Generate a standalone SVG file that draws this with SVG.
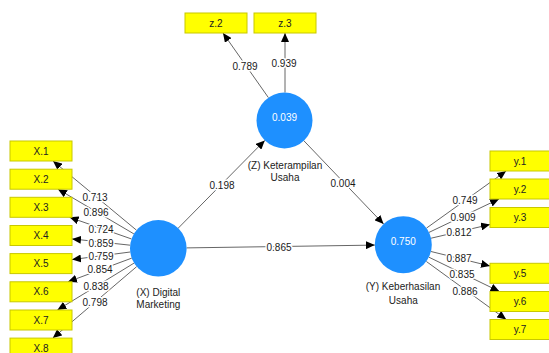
<svg xmlns="http://www.w3.org/2000/svg" width="549" height="353" viewBox="0 0 549 353">
  <style>
    text { font-family: "Liberation Sans", Arial, sans-serif; font-size: 10px; text-anchor: middle; }
    .ind rect { fill: #FFFF00; stroke: #C8C800; stroke-width: 1; }
    .ind text { fill: #222222; }
    .lv circle { fill: #1E90FF; }
    .lv .val { fill: #FFFFFF; }
    .lv .name { fill: #222222; }
    .edge { stroke: #666666; stroke-width: 1; fill: none; marker-end: url(#arrow); }
    .lbl { fill: #1a1a1a; stroke: #FFFFFF; stroke-width: 3px; paint-order: stroke; stroke-linejoin: round; }
  </style>
  <defs>
    <marker id="arrow" markerUnits="userSpaceOnUse" markerWidth="10" markerHeight="8" refX="9" refY="4" orient="auto">
      <path d="M0,0 L9,4 L0,8 Z" fill="#000000"/>
    </marker>
  </defs>
  <rect width="549" height="353" fill="#FFFFFF"/>

  <!-- connectors -->
  <g id="connectors">
    <!-- Digital Marketing outer loadings -->
    <line class="edge" x1="136.5" y1="230.2" x2="53.0" y2="161"/>
    <line class="edge" x1="133.9" y1="233.9" x2="58.0" y2="189.2"/>
    <line class="edge" x1="131.6" y1="239.0" x2="69.6" y2="217.3"/>
    <line class="edge" x1="130.2" y1="245.2" x2="72" y2="238.9"/>
    <line class="edge" x1="130.2" y1="252.0" x2="72" y2="259.6"/>
    <line class="edge" x1="131.8" y1="258.1" x2="68.0" y2="281.8"/>
    <line class="edge" x1="134.2" y1="263.0" x2="57.4" y2="310"/>
    <line class="edge" x1="136.7" y1="266.6" x2="52.8" y2="338.1"/>
    <!-- Keterampilan outer loadings -->
    <line class="edge" x1="268.4" y1="97.6" x2="223.0" y2="33"/>
    <line class="edge" x1="285" y1="92.5" x2="285" y2="33"/>
    <!-- Keberhasilan outer loadings -->
    <line class="edge" x1="426.5" y1="228.1" x2="506.1" y2="171"/>
    <line class="edge" x1="429.0" y1="232.4" x2="499.0" y2="199"/>
    <line class="edge" x1="431.1" y1="238.2" x2="490" y2="224.5"/>
    <line class="edge" x1="431.0" y1="251.5" x2="490" y2="266.0"/>
    <line class="edge" x1="428.9" y1="257.2" x2="499.5" y2="291.5"/>
    <line class="edge" x1="426.4" y1="261.5" x2="506.2" y2="319.5"/>
    <!-- structural paths -->
    <line class="edge" x1="178.2" y1="228.2" x2="264.8" y2="140.4"/>
    <line class="edge" x1="303.8" y1="140.7" x2="383.6" y2="224.1"/>
    <line class="edge" x1="186.6" y1="247.9" x2="374.8" y2="245.1"/>

    <!-- path coefficients and loadings -->
    <text class="lbl" x="95" y="200.6">0.713</text>
    <text class="lbl" x="96" y="215.6">0.896</text>
    <text class="lbl" x="101" y="232.6">0.724</text>
    <text class="lbl" x="101" y="246.6">0.859</text>
    <text class="lbl" x="101" y="259.6">0.759</text>
    <text class="lbl" x="100" y="272.6">0.854</text>
    <text class="lbl" x="96" y="289.6">0.838</text>
    <text class="lbl" x="95" y="305.6">0.798</text>
    <text class="lbl" x="245" y="69.6">0.789</text>
    <text class="lbl" x="284" y="66.6">0.939</text>
    <text class="lbl" x="465" y="203.6">0.749</text>
    <text class="lbl" x="463" y="220.6">0.909</text>
    <text class="lbl" x="459" y="235.6">0.812</text>
    <text class="lbl" x="459" y="261.6">0.887</text>
    <text class="lbl" x="462" y="277.6">0.835</text>
    <text class="lbl" x="465" y="294.6">0.886</text>
    <text class="lbl" x="222" y="188.6">0.198</text>
    <text class="lbl" x="343" y="186.6">0.004</text>
    <text class="lbl" x="279" y="250.6">0.865</text>
  </g>

  <!-- latent variables -->
  <g id="lv-x" class="lv">
    <circle cx="158.3" cy="248.3" r="28.3"/>
    <text class="name" x="158.3" y="295.9">(X) Digital</text>
    <text class="name" x="158.3" y="307.6">Marketing</text>
  </g>
  <g id="lv-z" class="lv">
    <circle cx="284.5" cy="120.5" r="28"/>
    <text class="val" x="284.5" y="120.6">0.039</text>
    <text class="name" x="285" y="168.6">(Z) Keterampilan</text>
    <text class="name" x="285" y="180.6">Usaha</text>
  </g>
  <g id="lv-y" class="lv">
    <circle cx="403.3" cy="244.7" r="28.5"/>
    <text class="val" x="403.3" y="244.6">0.750</text>
    <text class="name" x="403" y="290.3">(Y) Keberhasilan</text>
    <text class="name" x="403.3" y="304.3">Usaha</text>
  </g>

  <!-- indicators of X -->
  <g id="ind-x1" class="ind"><rect x="10" y="141" width="62" height="20"/><text x="41" y="154.6">X.1</text></g>
  <g id="ind-x2" class="ind"><rect x="10" y="169.2" width="62" height="20"/><text x="41" y="182.8">X.2</text></g>
  <g id="ind-x3" class="ind"><rect x="10" y="197.3" width="62" height="20"/><text x="41" y="210.9">X.3</text></g>
  <g id="ind-x4" class="ind"><rect x="10" y="225.5" width="62" height="20"/><text x="41" y="239.1">X.4</text></g>
  <g id="ind-x5" class="ind"><rect x="10" y="253.6" width="62" height="20"/><text x="41" y="267.2">X.5</text></g>
  <g id="ind-x6" class="ind"><rect x="10" y="281.8" width="62" height="20"/><text x="41" y="295.4">X.6</text></g>
  <g id="ind-x7" class="ind"><rect x="10" y="310" width="62" height="20"/><text x="41" y="323.6">X.7</text></g>
  <g id="ind-x8" class="ind"><rect x="10" y="338.1" width="62" height="20"/><text x="41" y="351.7">X.8</text></g>

  <!-- indicators of Z -->
  <g id="ind-z2" class="ind"><rect x="185" y="13" width="62" height="20"/><text x="216" y="26.6">z.2</text></g>
  <g id="ind-z3" class="ind"><rect x="254" y="13" width="62" height="20"/><text x="285" y="26.6">z.3</text></g>

  <!-- indicators of Y -->
  <g id="ind-y1" class="ind"><rect x="490" y="151" width="60" height="20"/><text x="520" y="164.6">y.1</text></g>
  <g id="ind-y2" class="ind"><rect x="490" y="179" width="60" height="20"/><text x="520" y="192.6">y.2</text></g>
  <g id="ind-y3" class="ind"><rect x="490" y="207.5" width="60" height="20"/><text x="520" y="221.1">y.3</text></g>
  <g id="ind-y5" class="ind"><rect x="490" y="263.3" width="60" height="20"/><text x="520" y="276.9">y.5</text></g>
  <g id="ind-y6" class="ind"><rect x="490" y="291.5" width="60" height="20"/><text x="520" y="305.1">y.6</text></g>
  <g id="ind-y7" class="ind"><rect x="490" y="319.5" width="60" height="20"/><text x="520" y="333.1">y.7</text></g>
</svg>
